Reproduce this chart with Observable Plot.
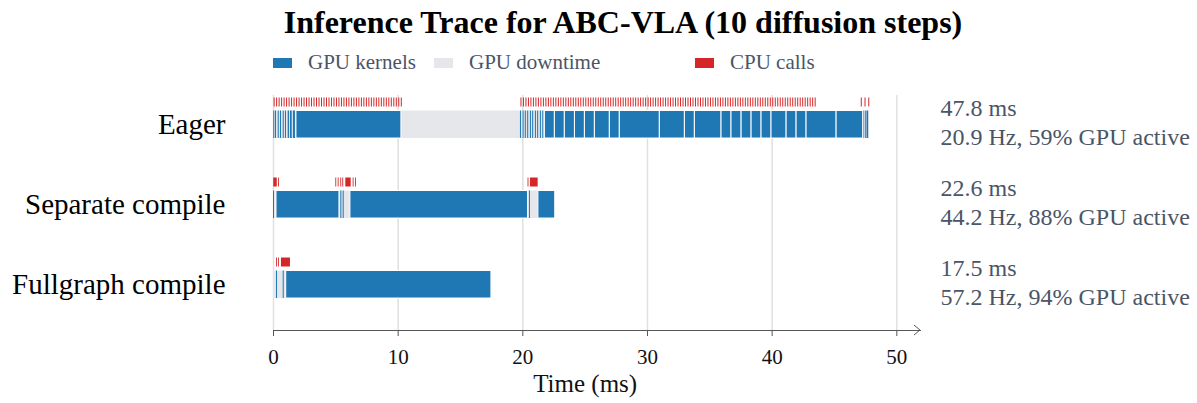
<!DOCTYPE html>
<html>
<head>
<meta charset="utf-8">
<script src="https://cdn.jsdelivr.net/npm/d3@7"></script>
<script src="https://cdn.jsdelivr.net/npm/@observablehq/plot@0.6"></script>
<style>
  html, body { margin: 0; padding: 0; background: white; }
  #wrap { position: relative; width: 1197px; height: 403px; font-family: "Liberation Serif", "Times New Roman", serif; }
  #title { position: absolute; top: 6px; left: 0; width: 1246px; text-align: center; font-size: 32px; line-height: 32px; font-weight: bold; color: #000; white-space: nowrap; }
  .sw { position: absolute; width: 19px; height: 10px; top: 58px; }
  .lt { position: absolute; top: 52px; font-size: 21px; line-height: 21px; color: #4a5568; white-space: nowrap; }
  #chart { position: absolute; top: 80px; left: 0; }
</style>
</head>
<body>
<div id="wrap">
  <div id="title"></div>
  <div id="legend"></div>
  <div id="chart"></div>
</div>
<script>
// ---------- data ----------
const titleText = "Inference Trace for ABC-VLA (10 diffusion steps)";
const rows = ["Eager", "Separate compile", "Fullgraph compile"];
const totalMs = [47.8, 22.6, 17.5];
const rateHz = [20.9, 44.2, 57.2];
const gpuActivePct = [59, 88, 94];
const xTicks = [0, 10, 20, 30, 40, 50];
const legendLabels = ["GPU kernels", "GPU downtime", "CPU calls"];
const axisLabel = "Time (ms)";

// GPU kernel intervals [start, end] in ms
const eagerKernels = [
  [0.02,0.1],[0.16,0.24],[0.38,0.46],[0.56,0.64],[0.78,0.86],[0.96,1.04],[1.18,1.28],[1.36,1.5],[1.6,1.76],[1.84,10.26],
  [19.81,19.89],[20.02,20.1],[20.2,20.28],[20.39,20.47],[20.61,20.69],[20.79,20.87],[21.01,21.09],[21.19,21.27],[21.41,21.49],[21.6,21.68],
  [21.77,22.57],[22.57,23.37],[23.37,24.18],[24.18,24.98],[24.98,25.78],[25.78,26.98],[26.98,27.78],[27.78,30.99],[30.99,33.0],[33.0,33.8],
  [33.8,35.94],[35.94,36.74],[36.74,37.55],[37.55,38.35],[38.35,39.15],[39.15,39.95],[39.95,41.16],[41.16,41.96],[41.96,42.76],[42.76,45.17],
  [45.17,47.3],[47.36,47.42],[47.49,47.55],[47.61,47.74]
];
const separateKernels = [[0.0,0.08],[0.24,5.29],[5.4,5.48],[5.59,5.67],[6.17,20.42],[20.53,20.61],[21.25,22.6]];
const fullgraphKernels = [[0.24,0.32],[0.78,0.86],[1.02,17.48]];

// CPU call start times (Eager: short launches) and intervals for compiled runs
const eagerCpuStarts = [
  0.05,0.25,0.45,0.65,0.85,1.05,1.25,1.45,1.65,1.85,2.05,2.25,2.45,2.65,2.85,3.05,3.25,3.45,3.65,3.85,
  4.05,4.25,4.45,4.65,4.85,5.05,5.25,5.45,5.65,5.85,6.05,6.25,6.45,6.65,6.85,7.05,7.25,7.45,7.65,7.85,
  8.05,8.25,8.45,8.65,8.85,9.05,9.25,9.45,9.65,9.85,10.05,10.25,
  19.85,20.05,20.25,20.45,20.65,20.85,21.05,21.25,21.45,21.65,21.85,22.05,22.25,22.45,22.65,22.85,23.05,23.25,23.45,23.65,
  23.85,24.05,24.25,24.45,24.65,24.85,25.05,25.25,25.45,25.65,25.85,26.05,26.25,26.45,26.65,26.85,27.05,27.25,27.45,27.65,
  27.85,28.05,28.25,28.45,28.65,28.85,29.05,29.25,29.45,29.65,29.85,30.05,30.25,30.45,30.65,30.85,31.05,31.25,31.45,31.65,
  31.85,32.05,32.25,32.45,32.65,32.85,33.05,33.25,33.45,33.65,33.85,34.05,34.25,34.45,34.65,34.85,35.05,35.25,35.45,35.65,
  35.85,36.05,36.25,36.45,36.65,36.85,37.05,37.25,37.45,37.65,37.85,38.05,38.25,38.45,38.65,38.85,39.05,39.25,39.45,39.65,
  39.85,40.05,40.25,40.45,40.65,40.85,41.05,41.25,41.45,41.65,41.85,42.05,42.25,42.45,42.65,42.85,43.05,43.25,43.45,
  47.15,47.45,47.75
];
const separateCpu = [[0.02,0.3],[0.4,0.47],[5.0,5.07],[5.19,5.26],[5.4,5.47],[5.56,5.63],[5.8,6.23],[6.39,6.46],[6.58,6.65],[20.42,20.49],[20.61,21.23]];
const fullgraphCpu = [[0.24,0.31],[0.4,0.47],[0.64,1.36]];

// ---------- styles ----------
const C_KERNEL = "#1f77b4", C_DOWN = "#e5e7eb", C_CPU = "#d62728", C_NOTE = "#4a5568";
const CPU_TICK = 0.08;

// ---------- tables ----------
const kernelLists = [eagerKernels, separateKernels, fullgraphKernels];
const cpuLists = [eagerCpuStarts.map(s => [s, s + CPU_TICK]), separateCpu, fullgraphCpu];
const kernels = rows.flatMap((r, i) => kernelLists[i].map(([a, b]) => ({row: r, x1: a, x2: b})));
const cpu = rows.flatMap((r, i) => cpuLists[i].map(([a, b]) => ({row: r, x1: a, x2: b})));
const downtime = rows.map((r, i) => ({row: r, x1: 0, x2: totalMs[i]}));
const notes = rows.map((r, i) => ({row: r, ms: totalMs[i], hz: rateHz[i], pct: gpuActivePct[i]}));

// ---------- title & legend ----------
document.getElementById("title").textContent = titleText;
const legendColors = [C_KERNEL, C_DOWN, C_CPU];
const swX = [273, 434, 695];
const leg = document.getElementById("legend");
legendLabels.forEach((lab, i) => {
  const s = document.createElement("div");
  s.className = "sw"; s.style.left = swX[i] + "px"; s.style.background = legendColors[i];
  leg.appendChild(s);
  const t = document.createElement("div");
  t.className = "lt"; t.style.left = (swX[i] + 35) + "px"; t.textContent = lab;
  leg.appendChild(t);
});

// ---------- chart ----------
const H = 323, MB = 73;
const bandIns = {insetLeft: 0, insetRight: 0};
const plot = Plot.plot({
  width: 1197,
  height: H,
  marginLeft: 273,
  marginRight: 277,
  marginTop: 15,
  marginBottom: MB,
  style: {fontFamily: '"Liberation Serif", "Times New Roman", serif', fontSize: "20px", background: "white", color: "#111"},
  x: {domain: [0, 51.9]},
  y: {type: "band", domain: rows, range: [3.5, 243.5], padding: 0},
  marks: [
    Plot.ruleX(xTicks, {stroke: "#e0e0e0", strokeWidth: 1.5}),
    Plot.rectX(downtime, {y: "row", x1: "x1", x2: "x2", fill: C_DOWN, insetTop: 26.5, insetBottom: 26, ...bandIns}),
    Plot.rectX(kernels.filter(d => d.x2 - d.x1 <= 0.3), {y: "row", x1: "x1", x2: "x2", fill: C_KERNEL, insetTop: 26.5, insetBottom: 26, ...bandIns}),
    Plot.rectX(kernels.filter(d => d.x2 - d.x1 > 0.3), {y: "row", x1: "x1", x2: "x2", fill: C_KERNEL, stroke: "white", strokeWidth: 1, insetTop: 26.5, insetBottom: 26, ...bandIns}),
    Plot.rectX(cpu, {y: "row", x1: "x1", x2: "x2", fill: C_CPU, insetTop: 13.5, insetBottom: 57.5, ...bandIns}),
    Plot.frame({anchor: "bottom", stroke: "#555"}),
    Plot.axisX({ticks: xTicks, tickSize: 6, tickPadding: 13, fontSize: 21, label: null, stroke: "#555", fill: "#111"}),
    Plot.axisY({tickSize: 0, tickPadding: 48, fontSize: 29, label: null, fill: "#000"}),
    Plot.text([{x: 25, label: axisLabel}], {x: "x", text: "label", frameAnchor: "bottom", dy: 61, fontSize: 25, fill: "#111"}),
    Plot.text(notes, {y: "row", text: d => `${d.ms} ms`, frameAnchor: "right", dx: 20, dy: -16, textAnchor: "start", fontSize: 24, fill: C_NOTE}),
    Plot.text(notes, {y: "row", text: d => `${d.hz} Hz, ${d.pct}% GPU active`, frameAnchor: "right", dx: 20, dy: 12.5, textAnchor: "start", fontSize: 24, fill: C_NOTE})
  ]
});
document.getElementById("chart").appendChild(plot);

// arrowhead at the end of the x axis line
const xs = plot.scale("x");
const xEnd = xs.range[1], yAx = H - MB;
d3.select(plot).append("path")
  .attr("d", `M${xEnd - 6},${yAx - 5}L${xEnd},${yAx}L${xEnd - 6},${yAx + 5}`)
  .attr("fill", "none").attr("stroke", "#555").attr("stroke-width", 1);
</script>
</body>
</html>
